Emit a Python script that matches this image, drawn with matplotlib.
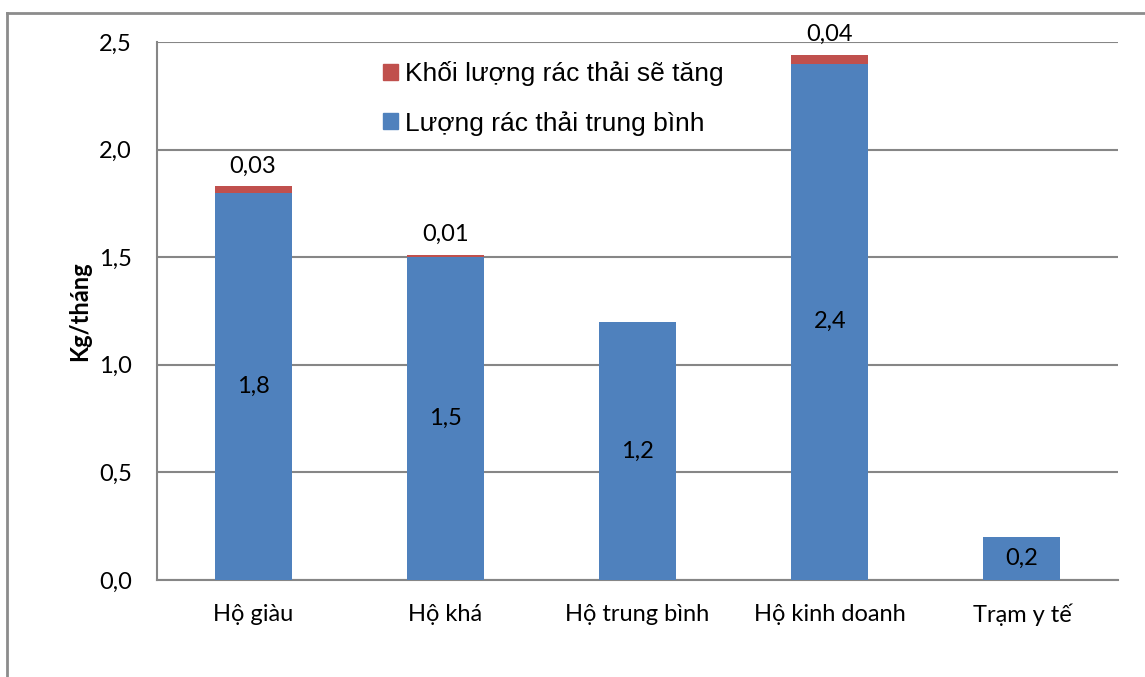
import matplotlib
matplotlib.use("Agg")
import matplotlib.pyplot as plt
from matplotlib.patches import Patch
from matplotlib.lines import Line2D
import numpy as np

categories = ["Hộ giàu", "Hộ khá", "Hộ trung bình", "Hộ kinh doanh", "Trạm y tế"]
average_waste = [1.8, 1.5, 1.2, 2.4, 0.2]
added_waste = [0.03, 0.01, 0.0, 0.04, 0.0]
y_ticks = [0.0, 0.5, 1.0, 1.5, 2.0, 2.5]

BLUE = "#4F81BD"
RED = "#C0504D"
GRID = "#868686"
FONT = "Lato"
FS = 17

W, H = 1145, 677
fig = plt.figure(figsize=(W / 100, H / 100), dpi=100)
ax = fig.add_axes([157 / W, 1 - 580 / H, (1118 - 157) / W, (580 - 42) / H])

x = np.arange(len(categories))
width = 0.4
ax.bar(x, average_waste, width, color=BLUE, zorder=3)
ax.bar(x, added_waste, width, bottom=average_waste, color=RED, zorder=3)

ax.set_xlim(-0.5, len(categories) - 0.5)
ax.set_ylim(0, 2.5)
ax.set_yticks(y_ticks)
ax.set_yticklabels([f"{v:.1f}".replace(".", ",") for v in y_ticks],
                   fontsize=FS, family=FONT)
ax.set_xticks(x)
ax.set_xticklabels(categories, fontsize=FS, family=FONT)
ax.tick_params(axis="both", length=0)
ax.tick_params(axis="y", pad=18)
ax.tick_params(axis="x", pad=17)

ax.grid(axis="y", color=GRID, linewidth=1.5, zorder=0)
for side in ("top", "right"):
    ax.spines[side].set_visible(False)
for side in ("left", "bottom"):
    ax.spines[side].set_color(GRID)
    ax.spines[side].set_linewidth(1.5)

ax.set_ylabel("Kg/tháng", fontsize=FS, family=FONT, fontweight="bold", labelpad=6)

def fmt(v):
    return f"{v:g}".replace(".", ",")

# Value labels: averages centred inside the blue segment, increases above the bar
for xi, base, extra in zip(x, average_waste, added_waste):
    ax.text(xi, base / 2, fmt(base), ha="center", va="center",
            fontsize=FS, family=FONT, zorder=4)
    if extra > 0:
        ax.annotate(fmt(extra), (xi, base + extra), xytext=(0, 7),
                    textcoords="offset points", ha="center", va="bottom",
                    fontsize=FS, family=FONT, zorder=4)

handles = [Patch(color=RED), Patch(color=BLUE)]
labels = ["Khối lượng rác thải sẽ tăng", "Lượng rác thải trung bình"]
ax.legend(handles, labels, loc="upper left",
          bbox_to_anchor=(383 / W, 1 - 61 / H), bbox_transform=fig.transFigure,
          frameon=False, prop={"family": "Liberation Sans", "size": 19},
          handlelength=0.55, handleheight=0.55, handletextpad=0.3,
          labelspacing=0.95, borderpad=0, borderaxespad=0)

# Chart-area border
fig.add_artist(Line2D([7 / W, 7 / W], [0, 1 - 13 / H], color="#8C8C8C",
                      linewidth=2, transform=fig.transFigure))
fig.add_artist(Line2D([7 / W, 1], [1 - 13 / H, 1 - 13 / H], color="#8C8C8C",
                      linewidth=2, transform=fig.transFigure))

fig.savefig("out.png", dpi=100)
